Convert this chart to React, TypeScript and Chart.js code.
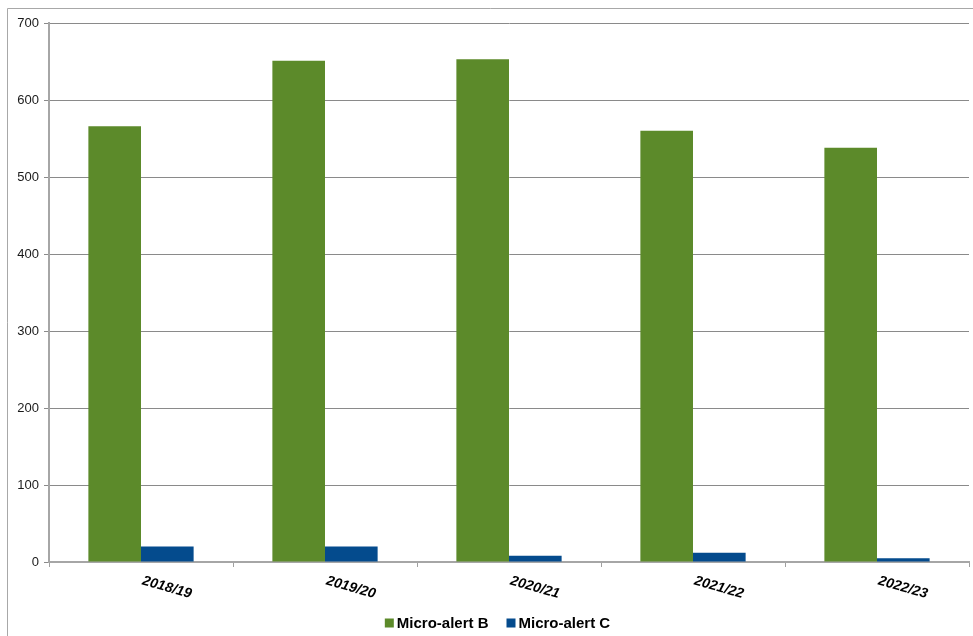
import React, { useEffect, useRef } from "react";
import { Chart, registerables } from "chart.js";

Chart.register(...registerables);

const categories = ["2018/19", "2019/20", "2020/21", "2021/22", "2022/23"];
const seriesBLabel = "Micro-alert B";
const seriesCLabel = "Micro-alert C";
const seriesB = [566, 651, 653, 560, 538];
const seriesC = [20, 20, 8, 12, 5];
const yTicks = [0, 100, 200, 300, 400, 500, 600, 700];

const GREEN = "#5C8A2A";
const BLUE = "#044B8D";

const framePlugin = {
  id: "frame",
  beforeDraw(chart: any) {
    const { ctx, width, height } = chart;
    ctx.save();
    ctx.fillStyle = "#ffffff";
    ctx.fillRect(0, 0, width, height);
    ctx.strokeStyle = "#a8a8a8";
    ctx.lineWidth = 1;
    ctx.beginPath();
    ctx.moveTo(7.5, height);
    ctx.lineTo(7.5, 8.5);
    ctx.lineTo(width, 8.5);
    ctx.stroke();
    ctx.restore();
  },
};

const labelsPlugin = {
  id: "rotLabels",
  afterDraw(chart: any) {
    const { ctx } = chart;
    const xs = chart.scales.x;
    ctx.save();
    ctx.font = "italic bold 14px 'Liberation Sans', Arial, sans-serif";
    ctx.fillStyle = "#000";
    ctx.textAlign = "center";
    ctx.textBaseline = "middle";
    (chart.data.labels as string[]).forEach((lab, i) => {
      const x = xs.getPixelForValue(i);
      ctx.save();
      ctx.translate(x + 26, 587.5);
      ctx.rotate((16 * Math.PI) / 180);
      ctx.fillText(lab, 0, 0);
      ctx.restore();
    });

    // legend
    ctx.font = "bold 15px 'Liberation Sans', Arial, sans-serif";
    ctx.textAlign = "left";
    ctx.textBaseline = "middle";
    const box = 9;
    const gapBoxText = 3;
    const gapItems = 18;
    const ds = chart.data.datasets;
    const widths = ds.map((d: any) => box + gapBoxText + ctx.measureText(d.label).width);
    const total = widths.reduce((a: number, b: number) => a + b, 0) + gapItems * (ds.length - 1);
    let x = 497.5 - total / 2;
    const cy = 623;
    ds.forEach((d: any, i: number) => {
      ctx.fillStyle = d.backgroundColor;
      ctx.fillRect(x, cy - box / 2, box, box);
      ctx.fillStyle = "#000";
      ctx.fillText(d.label, x + box + gapBoxText, cy + 0.5);
      x += widths[i] + gapItems;
    });
    ctx.restore();
  },
};

export default function App() {
  const ref = useRef<HTMLCanvasElement>(null);
  useEffect(() => {
    if (!ref.current) return;
    const chart = new Chart(ref.current, {
      type: "bar",
      data: {
        labels: categories,
        datasets: [
          {
            label: seriesBLabel,
            data: seriesB,
            backgroundColor: GREEN,
            categoryPercentage: 0.572,
            barPercentage: 1,
          },
          {
            label: seriesCLabel,
            data: seriesC,
            backgroundColor: BLUE,
            categoryPercentage: 0.572,
            barPercentage: 1,
          },
        ],
      },
      options: {
        responsive: false,
        animation: false,
        devicePixelRatio: 1,
        layout: { padding: { top: 23, right: 4, left: 0, bottom: 0 } },
        plugins: {
          legend: { display: false },
          tooltip: { enabled: false },
        },
        scales: {
          x: {
            grid: {
              display: true,
              offset: true,
              drawOnChartArea: false,
              drawTicks: true,
              tickLength: 5,
              color: "#a0a0a0",
              lineWidth: 1,
            },
            border: { display: true, color: "#a6a6a6", width: 2 },
            ticks: { display: false },
            afterFit: (s: any) => {
              s.height = 74;
            },
          },
          y: {
            min: 0,
            max: 700,
            afterBuildTicks: (s: any) => {
              s.ticks = yTicks.map((v) => ({ value: v }));
            },
            grid: {
              color: "#8a8a8a",
              lineWidth: 1,
              drawTicks: true,
              tickLength: 5,
            },
            border: { display: true, color: "#a6a6a6", width: 2 },
            ticks: {
              padding: 5,
              color: "#1a1a1a",
              font: { family: "'Liberation Sans', Arial, sans-serif", size: 13 },
            },
            afterFit: (s: any) => {
              s.width = 49;
            },
          },
        },
      },
      plugins: [framePlugin, labelsPlugin],
    });
    return () => chart.destroy();
  }, []);
  return (
    <div style={{ position: "fixed", left: 0, top: 0, width: 973, height: 636, background: "#fff" }}>
      <canvas ref={ref} width={973} height={636} style={{ display: "block" }} />
    </div>
  );
}
